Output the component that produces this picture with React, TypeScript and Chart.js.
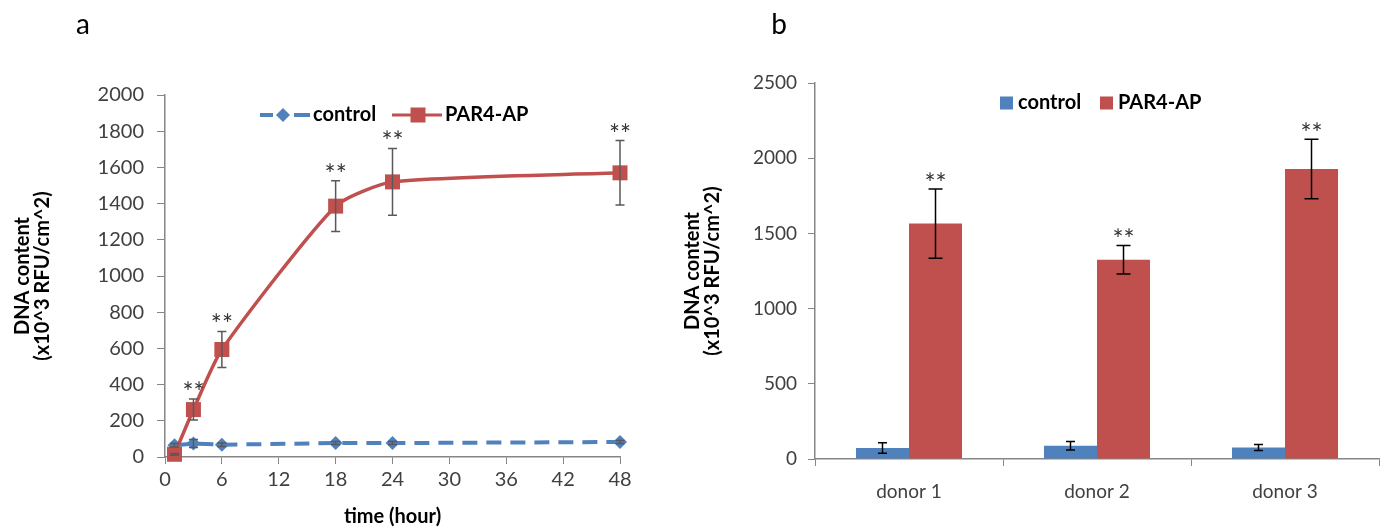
import React, { useEffect, useRef } from 'react';
import { Chart, registerables } from 'chart.js';

Chart.register(...registerables);

const FONT = 'Lato, "Open Sans", sans-serif';
const BLUE = '#4F81BD';
const RED = '#C0504D';
const AXIS = '#868686';

// Panel a: time course
const timeHours = [1, 3, 6, 18, 24, 48];
const timeControl = [65, 74, 68, 77, 77, 83];
const timeControlErr = [10, 22, 10, 8, 8, 8];
const timePar4 = [15, 262, 594, 1386, 1520, 1570];
const timePar4Err = [5, 58, 100, 140, 185, 178];
const timeStars = ['', '**', '**', '**', '**', '**'];

// Panel b: donors
const donors = ['donor 1', 'donor 2', 'donor 3'];
const donorControl = [73, 88, 77];
const donorControlErr = [35, 28, 20];
const donorPar4 = [1565, 1325, 1928];
const donorPar4Err = [230, 95, 198];
const donorStars = ['**', '**', '**'];

const seriesNames = ['control', 'PAR4-AP'];
const yTitle = ['DNA content', '(x10^3 RFU/cm^2)'];
const xTitleTime = 'time (hour)';
const panelLabels = ['a', 'b'];

const LEFT_W = 660;
const RIGHT_X = 660;
const RIGHT_W = 1386 - 660;
const H = 529;

function drawErr(ctx: CanvasRenderingContext2D, px: number, top: number, bot: number, cap: number) {
  ctx.beginPath();
  ctx.moveTo(px, top);
  ctx.lineTo(px, bot);
  ctx.moveTo(px - cap, top);
  ctx.lineTo(px + cap, top);
  ctx.moveTo(px - cap, bot);
  ctx.lineTo(px + cap, bot);
  ctx.stroke();
}

const plainTick = (v: any) => String(v);

const timeOverlay = {
  id: 'timeOverlay',
  afterDatasetsDraw(chart: any) {
    const ctx: CanvasRenderingContext2D = chart.ctx;
    const x = chart.scales.x;
    const y = chart.scales.y;
    ctx.save();
    ctx.strokeStyle = '#595959';
    ctx.lineWidth = 1.5;
    ctx.setLineDash([]);
    const series: [number[], number[]][] = [
      [timeControl, timeControlErr],
      [timePar4, timePar4Err],
    ];
    series.forEach(([vals, errs]) => {
      vals.forEach((v, i) => {
        const px = x.getPixelForValue(timeHours[i]);
        drawErr(ctx, px, y.getPixelForValue(v + errs[i]), y.getPixelForValue(v - errs[i]), 4.5);
      });
    });
    ctx.fillStyle = '#333';
    ctx.font = `26px ${FONT}`;
    ctx.textAlign = 'center';
    ctx.textBaseline = 'alphabetic';
    timePar4.forEach((v, i) => {
      if (!timeStars[i]) return;
      const px = x.getPixelForValue(timeHours[i]);
      const top = y.getPixelForValue(v + timePar4Err[i]);
      ctx.fillText(timeStars[i], px, top + 3);
    });

    // legend
    const ly = 115;
    ctx.strokeStyle = BLUE;
    ctx.lineWidth = 4;
    ctx.beginPath();
    ctx.moveTo(260, ly);
    ctx.lineTo(273, ly);
    ctx.moveTo(294, ly);
    ctx.lineTo(310, ly);
    ctx.stroke();
    ctx.fillStyle = BLUE;
    ctx.beginPath();
    ctx.moveTo(283 - 7, ly);
    ctx.lineTo(283, ly - 7);
    ctx.lineTo(283 + 7, ly);
    ctx.lineTo(283, ly + 7);
    ctx.closePath();
    ctx.fill();
    ctx.strokeStyle = RED;
    ctx.lineWidth = 3;
    ctx.beginPath();
    ctx.moveTo(392, ly);
    ctx.lineTo(442, ly);
    ctx.stroke();
    ctx.fillStyle = RED;
    ctx.fillRect(418 - 7.5, ly - 7.5, 15, 15);
    ctx.fillStyle = '#000';
    ctx.font = `bold 20px ${FONT}`;
    ctx.textAlign = 'left';
    ctx.textBaseline = 'middle';
    ctx.fillText(seriesNames[0], 313, ly);
    ctx.fillText(seriesNames[1], 445, ly);

    ctx.font = `28px ${FONT}`;
    ctx.textAlign = 'center';
    ctx.textBaseline = 'alphabetic';
    ctx.fillText(panelLabels[0], 83, 34);
    ctx.restore();
  },
};

const donorOverlay = {
  id: 'donorOverlay',
  afterDatasetsDraw(chart: any) {
    const ctx: CanvasRenderingContext2D = chart.ctx;
    const y = chart.scales.y;
    ctx.save();
    ctx.strokeStyle = '#000';
    ctx.lineWidth = 1.5;
    const sets: [number[], number[], number][] = [
      [donorControl, donorControlErr, 4.5],
      [donorPar4, donorPar4Err, 7],
    ];
    sets.forEach(([vals, errs, cap], di) => {
      const meta = chart.getDatasetMeta(di);
      vals.forEach((v, i) => {
        const px = meta.data[i].x;
        drawErr(ctx, px, y.getPixelForValue(v + errs[i]), y.getPixelForValue(v - errs[i]), cap);
      });
    });
    ctx.fillStyle = '#333';
    ctx.font = `26px ${FONT}`;
    ctx.textAlign = 'center';
    ctx.textBaseline = 'alphabetic';
    const meta = chart.getDatasetMeta(1);
    donorPar4.forEach((v, i) => {
      const px = meta.data[i].x;
      const top = y.getPixelForValue(v + donorPar4Err[i]);
      ctx.fillText(donorStars[i], px, top + 4);
    });

    // legend
    const ly = 103;
    ctx.fillStyle = BLUE;
    ctx.fillRect(340, ly - 6.5, 13, 13);
    ctx.fillStyle = RED;
    ctx.fillRect(440, ly - 6.5, 13, 13);
    ctx.fillStyle = '#000';
    ctx.font = `bold 20px ${FONT}`;
    ctx.textAlign = 'left';
    ctx.textBaseline = 'middle';
    ctx.fillText(seriesNames[0], 358, ly);
    ctx.fillText(seriesNames[1], 458, ly);

    ctx.font = `28px ${FONT}`;
    ctx.textAlign = 'center';
    ctx.textBaseline = 'alphabetic';
    ctx.fillText(panelLabels[1], 779 - RIGHT_X, 34);
    ctx.restore();
  },
};

export default function App() {
  const leftRef = useRef<HTMLCanvasElement>(null);
  const rightRef = useRef<HTMLCanvasElement>(null);

  useEffect(() => {
    const left = new Chart(leftRef.current!, {
      type: 'line',
      data: {
        datasets: [
          {
            label: seriesNames[1],
            data: timeHours.map((t, i) => ({ x: t, y: timePar4[i] })),
            borderColor: RED,
            backgroundColor: RED,
            borderWidth: 3.5,
            pointStyle: 'rect',
            pointRadius: 10.6,
            pointBorderWidth: 0,
            pointBackgroundColor: RED,
            tension: 0.2,
            clip: false,
            order: 0,
          },
          {
            label: seriesNames[0],
            data: timeHours.map((t, i) => ({ x: t, y: timeControl[i] })),
            borderColor: BLUE,
            backgroundColor: BLUE,
            borderWidth: 4,
            borderDash: [15, 9],
            pointStyle: 'rectRot',
            pointRadius: 7,
            pointBorderWidth: 0,
            pointBackgroundColor: BLUE,
            tension: 0,
            clip: false,
            order: 1,
          },
        ],
      },
      options: {
        responsive: false,
        animation: false,
        layout: { padding: { top: 95, right: LEFT_W - 620, left: 0, bottom: 0 } },
        plugins: { legend: { display: false }, tooltip: { enabled: false } },
        scales: {
          x: {
            type: 'linear',
            min: 0,
            max: 48,
            ticks: { stepSize: 6, font: { family: FONT, size: 20 }, color: '#404040', padding: 4, callback: plainTick },
            grid: { drawOnChartArea: false, drawTicks: true, tickLength: 7, color: AXIS },
            border: { display: true, color: AXIS, width: 1.5 },
            title: {
              display: true,
              text: xTitleTime,
              font: { family: FONT, size: 20, weight: 'bold' },
              color: '#000',
              padding: { top: 0, bottom: 0 },
            },
            afterFit: (s: any) => {
              s.height = H - 457;
            },
          },
          y: {
            min: 0,
            max: 2000,
            ticks: { stepSize: 200, font: { family: FONT, size: 20 }, color: '#404040', padding: 13, callback: plainTick },
            grid: { drawOnChartArea: false, drawTicks: true, tickLength: 8, color: AXIS },
            border: { display: true, color: AXIS, width: 1.5 },
            title: {
              display: true,
              text: yTitle,
              font: { family: FONT, size: 20, weight: 'bold', lineHeight: 1.0 },
              color: '#000',
              padding: { top: 13, bottom: 0 },
            },
            afterFit: (s: any) => {
              s.width = 165;
            },
          },
        },
      } as any,
      plugins: [timeOverlay],
    });

    const right = new Chart(rightRef.current!, {
      type: 'bar',
      data: {
        labels: donors,
        datasets: [
          { label: seriesNames[0], data: donorControl, backgroundColor: BLUE, borderWidth: 0 },
          { label: seriesNames[1], data: donorPar4, backgroundColor: RED, borderWidth: 0 },
        ],
      },
      options: {
        responsive: false,
        animation: false,
        datasets: { bar: { categoryPercentage: 0.564, barPercentage: 1.0 } },
        layout: { padding: { top: 83, right: RIGHT_W - (1379 - RIGHT_X), left: 0, bottom: 0 } },
        plugins: { legend: { display: false }, tooltip: { enabled: false } },
        scales: {
          x: {
            ticks: { font: { family: FONT, size: 19 }, color: '#404040', padding: 14 },
            grid: { drawOnChartArea: false, drawTicks: true, tickLength: 7, color: AXIS, offset: true },
            border: { display: true, color: AXIS, width: 1.5 },
            afterFit: (s: any) => {
              s.height = H - 459;
            },
          },
          y: {
            min: 0,
            max: 2500,
            ticks: { stepSize: 500, font: { family: FONT, size: 19 }, color: '#404040', padding: 11, callback: plainTick },
            grid: { drawOnChartArea: false, drawTicks: true, tickLength: 7, color: AXIS },
            border: { display: true, color: AXIS, width: 1.5 },
            title: {
              display: true,
              text: yTitle,
              font: { family: FONT, size: 20, weight: 'bold', lineHeight: 1.0 },
              color: '#000',
              padding: { top: 23, bottom: 0 },
            },
            afterFit: (s: any) => {
              s.width = 815 - RIGHT_X;
            },
          },
        },
      } as any,
      plugins: [donorOverlay],
    });

    return () => {
      left.destroy();
      right.destroy();
    };
  }, []);

  return (
    <div style={{ position: 'absolute', left: 0, top: 0, width: 1386, height: H, background: '#fff' }}>
      <canvas
        ref={leftRef}
        width={LEFT_W}
        height={H}
        style={{ position: 'absolute', left: 0, top: 0, width: LEFT_W, height: H, display: 'block' }}
      />
      <canvas
        ref={rightRef}
        width={RIGHT_W}
        height={H}
        style={{ position: 'absolute', left: RIGHT_X, top: 0, width: RIGHT_W, height: H, display: 'block' }}
      />
    </div>
  );
}
